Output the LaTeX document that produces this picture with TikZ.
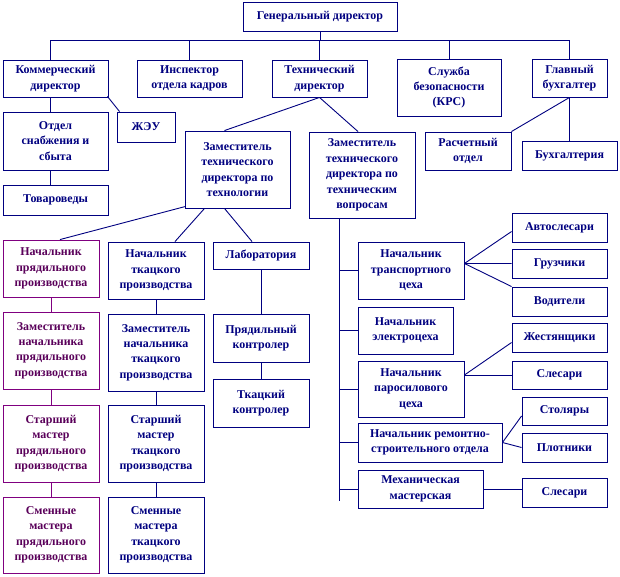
\documentclass[tikz,border=0pt]{standalone}
\usepackage{fontspec}
\setmainfont{Liberation Serif}
\definecolor{navy}{RGB}{0,0,128}
\definecolor{plum}{RGB}{128,0,128}
\definecolor{plumtext}{RGB}{90,0,90}
\begin{document}
\begin{tikzpicture}[x=1bp,y=-1bp,line width=0.9bp,
	font=\fontsize{12}{15.5}\selectfont\bfseries,
	box/.style={draw=navy,text=navy,fill=white,align=center,inner sep=1bp},
	pbox/.style={box,draw=plum,text=plumtext},
	wh/.style 2 args={minimum width=#1bp,minimum height=#2bp},
	link/.style={draw=navy},
	plink/.style={draw=plum}]
	\fill[white] (0,0) rectangle (620,577);
	\useasboundingbox (0,0) rectangle (620,577);
	% upper levels
	\node[box,wh={154}{29}] (gd) at (320,16.5) {Генеральный директор};
	\node[box,wh={105}{37}] (kom) at (55.5,78.5) {Коммерческий\\директор};
	\node[box,wh={105}{37}] (insp) at (189.5,78.5) {Инспектор\\отдела кадров};
	\node[box,wh={95}{37}] (tech) at (319.5,78.5) {Технический\\директор};
	\node[box,wh={104}{57}] (sb) at (449,87.5) {Служба\\безопасности\\(КРС)};
	\node[box,wh={75}{38}] (gb) at (569.5,78) {Главный\\бухгалтер};
	\node[box,wh={105}{58}] (osn) at (55.5,141) {Отдел\\снабжения и\\сбыта};
	\node[box,wh={58}{30}] (zheu) at (146,127) {ЖЭУ};
	\node[box,wh={105}{30}] (tov) at (55.5,200) {Товароведы};
	\node[box,wh={105}{77}] (ztt) at (237.5,169.5) {Заместитель\\технического\\директора по\\технологии};
	\node[box,wh={106}{86}] (ztv) at (362,175) {Заместитель\\технического\\директора по\\техническим\\вопросам};
	\node[box,wh={86}{38}] (ro) at (468,151) {Расчетный\\отдел};
	\node[box,wh={95}{29}] (buh) at (569.5,155.5) {Бухгалтерия};
	% production
	\node[pbox,wh={96}{57}] (npr) at (51,268.5) {Начальник\\прядильного\\производства};
	\node[box,wh={96}{57}] (ntk) at (156,270.5) {Начальник\\ткацкого\\производства};
	\node[box,wh={96}{27}] (lab) at (261,255.5) {Лаборатория};
	\node[pbox,wh={96}{77}] (zpr) at (51,350.5) {Заместитель\\начальника\\прядильного\\производства};
	\node[box,wh={96}{77}] (ztk) at (156,352.5) {Заместитель\\начальника\\ткацкого\\производства};
	\node[box,wh={96}{48}] (pk) at (261,338) {Прядильный\\контролер};
	\node[box,wh={96}{48}] (tk) at (261,403) {Ткацкий\\контролер};
	\node[pbox,wh={96}{77}] (spr) at (51,443.5) {Старший\\мастер\\прядильного\\производства};
	\node[box,wh={96}{77}] (stk) at (156,443.5) {Старший\\мастер\\ткацкого\\производства};
	\node[pbox,wh={96}{76}] (smpr) at (51,535) {Сменные\\мастера\\прядильного\\производства};
	\node[box,wh={96}{76}] (smtk) at (156,535) {Сменные\\мастера\\ткацкого\\производства};
	% technical services
	\node[box,wh={106}{57}] (ntr) at (411,270.5) {Начальник\\транспортного\\цеха};
	\node[box,wh={95}{47}] (nel) at (405.5,330.5) {Начальник\\электроцеха};
	\node[box,wh={106}{56}] (nps) at (411,389) {Начальник\\паросилового\\цеха};
	\node[box,wh={144}{39}] (nrs) at (430,442.5) {Начальник ремонтно-\\строительного отдела};
	\node[box,wh={125}{38}] (mm) at (420.5,489) {Механическая\\мастерская};
	\node[box,wh={95}{29}] (avt) at (559.5,227.5) {Автослесари};
	\node[box,wh={95}{29}] (gru) at (559.5,263.5) {Грузчики};
	\node[box,wh={95}{29}] (vod) at (559.5,301.5) {Водители};
	\node[box,wh={95}{29}] (zhe) at (559.5,337.5) {Жестянщики};
	\node[box,wh={95}{28}] (sl) at (559.5,375) {Слесари};
	\node[box,wh={85}{28}] (sto) at (564.5,411) {Столяры};
	\node[box,wh={85}{29}] (plo) at (564.5,447.5) {Плотники};
	\node[box,wh={85}{29}] (slm) at (564.5,492.5) {Слесари};
	% connectors
	\coordinate (bus) at (0,40);
	\draw[link] (gd.south) -- (gd.south |- bus);
	\draw[link] ([xshift=-5.5bp]kom.north) |- (bus -| gb.north) -- (gb.north);
	\foreach \n in {insp,tech,sb}
		\draw[link] (\n.north) -- (\n.north |- bus);
	\draw[link] ([xshift=-5.5bp]kom.south) -- ([xshift=-5.5bp]osn.north);
	\draw[link] ([xshift=-5.5bp]osn.south) -- ([xshift=-5.5bp]tov.north);
	\draw[link] ([xshift=-1bp,yshift=1bp]kom.south east) -- ([xshift=3bp]zheu.north west);
	\draw[link] (tech.south) -- ([xshift=-13bp]ztt.north);
	\draw[link] (tech.south) -- ([xshift=-4bp]ztv.north);
	\draw[link] (gb.south) -- (ro.north east);
	\draw[link] (gb.south) -- (buh.north);
	\draw[link] ([xshift=-52bp,yshift=2bp]ztt.south) -- ([xshift=9bp]npr.north);
	\draw[link] ([xshift=-33bp]ztt.south) -- ([xshift=19bp]ntk.north);
	\draw[link] ([xshift=-13bp]ztt.south) -- ([xshift=-9bp]lab.north);
	\draw[plink] (npr) -- (zpr) -- (spr) -- (smpr);
	\draw[link] (ntk) -- (ztk) -- (stk) -- (smtk);
	\draw[link] (lab) -- (pk) -- (tk);
	% spine of the technical services
	\coordinate (spine) at (339,501);
	\draw[link] (ztv.south -| spine) -- (spine);
	\foreach \n in {ntr,nel,nps,nrs,mm}
		\draw[link] (\n.west) -- (\n.west -| spine);
	\draw[link] ([yshift=7bp]ntr.east) -- ([yshift=-4bp]avt.west);
	\draw[link] ([yshift=7bp]ntr.east) -- (gru.west);
	\draw[link] ([yshift=7bp]ntr.east) -- (vod.north west);
	\draw[link] (nps.east |- sl.west) -- ([yshift=-5bp]zhe.west);
	\draw[link] (nps.east |- sl.west) -- (sl.west);
	\draw[link] (nrs.east) -- ([yshift=-5bp]sto.west);
	\draw[link] (nrs.east) -- (plo.west);
	\draw[link] (mm.east) -- (mm.east -| slm.west);
\end{tikzpicture}
\end{document}
